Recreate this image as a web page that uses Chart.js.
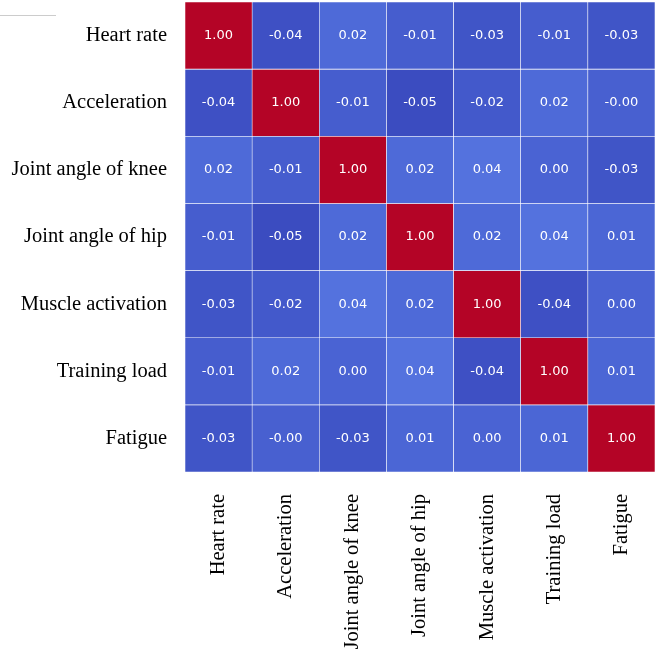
<!DOCTYPE html>
<html>

<head>
    <title>Correlation Heatmap</title>
    <meta charset="UTF-8">
    <script src="https://cdn.jsdelivr.net/npm/chart.js"></script>
    <style>
        html, body {
            margin: 0;
            padding: 0;
            background-color: #fff;
        }

        .chart-container {
            position: relative;
            width: 666px;
            height: 666px;
        }

        .corner-line {
            position: absolute;
            left: 0;
            top: 15px;
            width: 56px;
            height: 1px;
            background-color: #cccccc;
        }
    </style>
</head>

<body>
    <div class="chart-container">
        <canvas id="heatmap"></canvas>
        <div class="corner-line"></div>
    </div>

    <script>
        // Variable names (rows top to bottom, columns left to right)
        var variables = ['Heart rate', 'Acceleration', 'Joint angle of knee', 'Joint angle of hip',
            'Muscle activation', 'Training load', 'Fatigue'];

        // Correlation values, one array per row
        var heartRate      = [1.00, -0.04, 0.02, -0.01, -0.03, -0.01, -0.03];
        var acceleration   = [-0.04, 1.00, -0.01, -0.05, -0.02, 0.02, -0.004];
        var kneeAngle      = [0.02, -0.01, 1.00, 0.02, 0.04, 0.003, -0.03];
        var hipAngle       = [-0.01, -0.05, 0.02, 1.00, 0.02, 0.04, 0.01];
        var muscleActivity = [-0.03, -0.02, 0.04, 0.02, 1.00, -0.04, 0.003];
        var trainingLoad   = [-0.01, 0.02, 0.003, 0.04, -0.04, 1.00, 0.01];
        var fatigue        = [-0.03, -0.004, -0.03, 0.01, 0.003, 0.01, 1.00];

        var rows = [heartRate, acceleration, kneeAngle, hipAngle, muscleActivity, trainingLoad, fatigue];

        // coolwarm colormap samples (33 steps)
        var coolwarm = [
            [59, 76, 192], [68, 90, 204], [77, 104, 215], [87, 117, 225], [98, 130, 234],
            [108, 142, 241], [119, 154, 247], [130, 165, 251], [141, 176, 254], [152, 185, 255],
            [163, 194, 255], [174, 201, 253], [184, 208, 249], [194, 213, 244], [204, 217, 238],
            [213, 219, 230], [221, 221, 221], [229, 216, 209], [236, 211, 197], [241, 204, 184],
            [245, 196, 172], [247, 187, 159], [247, 177, 147], [247, 166, 134], [244, 154, 123],
            [241, 141, 111], [236, 127, 99], [229, 112, 88], [222, 96, 77], [213, 80, 66],
            [203, 62, 56], [192, 40, 47], [180, 4, 38]
        ];

        var allValues = [].concat.apply([], rows);
        var vmin = Math.min.apply(null, allValues);
        var vmax = Math.max.apply(null, allValues);

        function cellColor(v) {
            var t = (v - vmin) / (vmax - vmin);
            t = Math.max(0, Math.min(1, t)) * (coolwarm.length - 1);
            var i = Math.min(Math.floor(t), coolwarm.length - 2);
            var f = t - i;
            var a = coolwarm[i], b = coolwarm[i + 1];
            return 'rgb(' + Math.round(a[0] + (b[0] - a[0]) * f) + ',' +
                Math.round(a[1] + (b[1] - a[1]) * f) + ',' +
                Math.round(a[2] + (b[2] - a[2]) * f) + ')';
        }

        // One floating-bar dataset per row; each bar spans [row, row + 1]
        var datasets = rows.map(function (row, r) {
            return {
                label: variables[r],
                data: row.map(function () { return [r, r + 1]; }),
                values: row,
                backgroundColor: row.map(cellColor),
                borderColor: '#ffffff',
                borderWidth: 0.6,
                borderSkipped: false,
                barPercentage: 1,
                categoryPercentage: 1,
                grouped: false
            };
        });

        // Write the value in the middle of every cell
        var cellLabels = {
            id: 'cellLabels',
            afterDatasetsDraw: function (chart) {
                var ctx = chart.ctx;
                ctx.save();
                ctx.font = '13px "DejaVu Sans"';
                ctx.fillStyle = '#ffffff';
                ctx.textAlign = 'center';
                ctx.textBaseline = 'middle';
                chart.data.datasets.forEach(function (ds, i) {
                    chart.getDatasetMeta(i).data.forEach(function (el, j) {
                        ctx.fillText(ds.values[j].toFixed(2), el.x, (el.y + el.base) / 2);
                    });
                });
                ctx.restore();
            }
        };

        var labelFont = { family: '"Liberation Serif", "Times New Roman", serif', size: 20.5 };

        new Chart(document.getElementById('heatmap'), {
            type: 'bar',
            data: {
                labels: variables,
                datasets: datasets
            },
            options: {
                responsive: true,
                maintainAspectRatio: false,
                animation: false,
                layout: {
                    padding: { top: 2, right: 11, bottom: 0, left: 0 }
                },
                plugins: {
                    legend: { display: false },
                    tooltip: { enabled: false }
                },
                scales: {
                    x: {
                        type: 'category',
                        offset: true,
                        grid: { display: false, drawTicks: false },
                        border: { display: false },
                        ticks: {
                            color: '#000',
                            font: labelFont,
                            minRotation: 90,
                            maxRotation: 90,
                            autoSkip: false,
                            padding: 22
                        },
                        afterFit: function (scale) {
                            scale.height = 194;
                            scale.paddingLeft = 0;
                            scale.paddingRight = 0;
                        }
                    },
                    y: {
                        type: 'linear',
                        min: 0,
                        max: variables.length,
                        reverse: true,
                        grid: { display: false, drawTicks: false },
                        border: { display: false },
                        ticks: {
                            color: '#000',
                            font: labelFont,
                            padding: 18,
                            callback: function (value, index) {
                                return variables[index];
                            }
                        },
                        afterBuildTicks: function (scale) {
                            scale.ticks = variables.map(function (_, i) {
                                return { value: i + 0.5 };
                            });
                        },
                        afterFit: function (scale) {
                            scale.width = 185;
                            scale.paddingTop = 0;
                            scale.paddingBottom = 0;
                        }
                    }
                }
            },
            plugins: [cellLabels]
        });
    </script>
</body>

</html>
